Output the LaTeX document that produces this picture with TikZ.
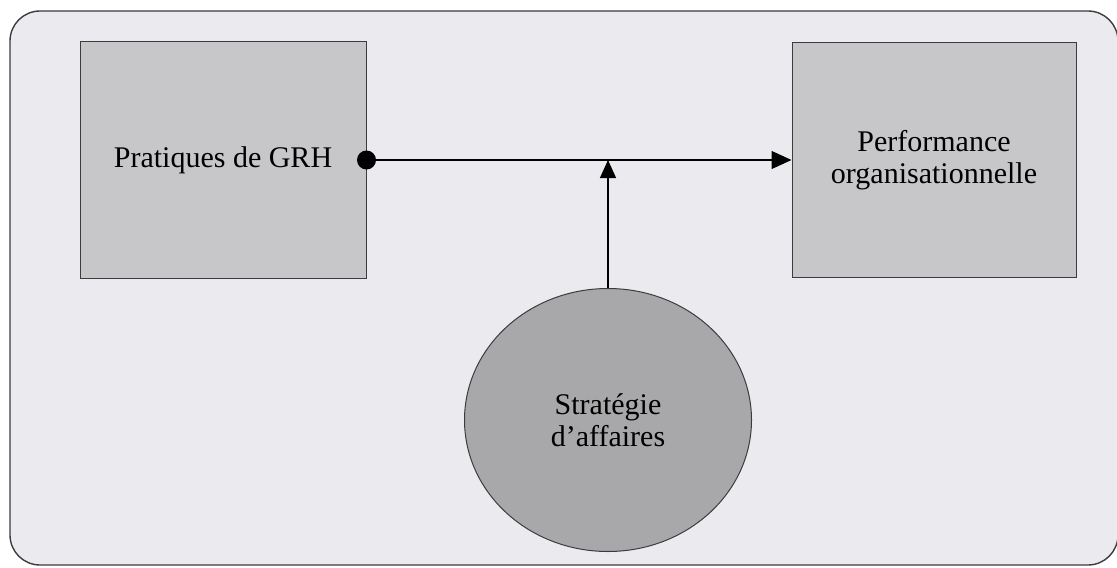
\documentclass[tikz,border=0pt]{standalone}
\usepackage{fontspec}
\setmainfont{Liberation Serif}
\usetikzlibrary{arrows.meta, shapes.geometric}
\definecolor{FrameGray}{RGB}{235,235,239}
\definecolor{BoxGray}{RGB}{199,199,201}
\definecolor{DiskGray}{RGB}{168,168,170}
\definecolor{LineGray}{RGB}{60,60,60}

\begin{document}
\begin{tikzpicture}[x=0.5pt,y=-0.5pt,
    bloc/.style={draw=LineGray,line width=0.5pt,fill=BoxGray,align=center,inner sep=0pt,font=\fontsize{15}{16}\selectfont},
    fleche/.style={line width=0.6pt,-{Triangle[length=10pt,width=9pt]}}]
          \useasboundingbox (0,0) rectangle (1117,567);
          \draw[LineGray,line width=0.7pt,rounded corners=15pt,fill=FrameGray] (10,11) rectangle (1118,565);
          \node[bloc,minimum width=143pt,minimum height=118pt] (grh) at (223,160) {Pratiques de GRH};
          \node[bloc,minimum width=142pt,minimum height=117pt] (perf) at (934,160) {Performance\\organisationnelle};
          \node[bloc,ellipse,fill=DiskGray,minimum width=143.5pt,minimum height=131.5pt] (strat) at (608,420) {Stratégie\\d’affaires};
          \node[circle,fill=black,inner sep=0pt,minimum size=9.5pt] (dot) at (grh.east) {};
          \draw[fleche] (dot) -- (perf.west);
          \draw[fleche,-{Triangle[length=9pt,width=8pt]}] (strat.north) -- (strat.north |- dot);
        \end{tikzpicture}
\end{document}
